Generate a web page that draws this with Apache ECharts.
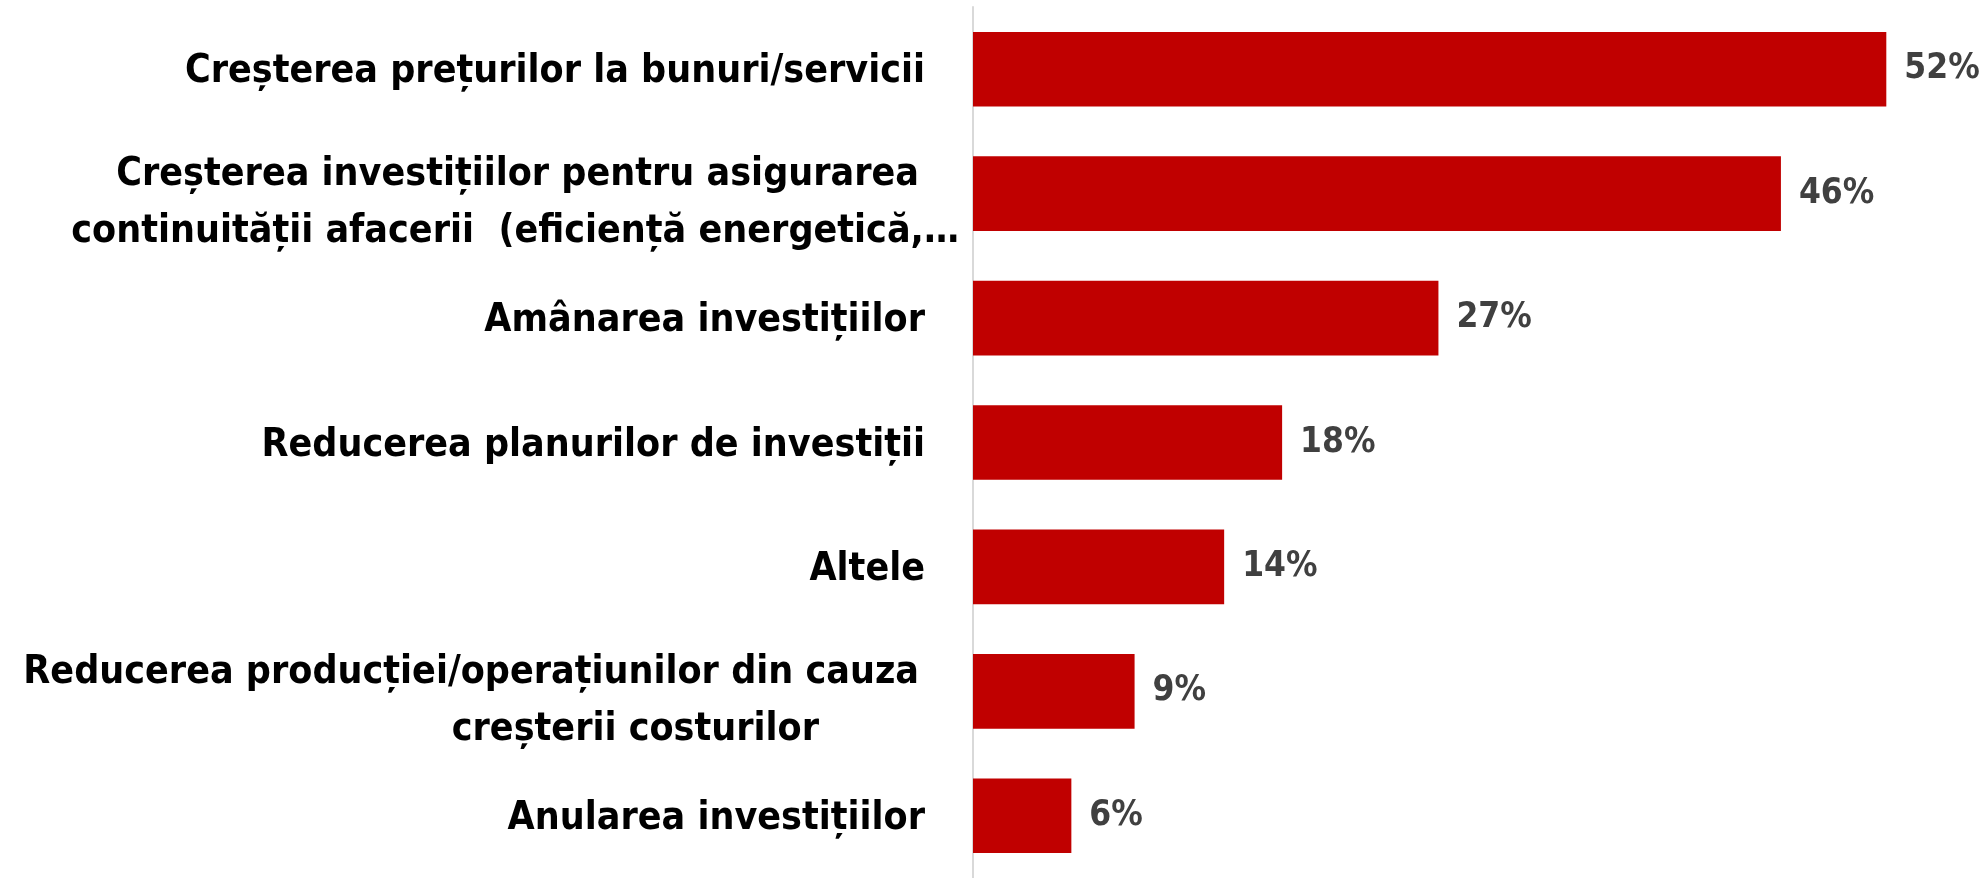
<!DOCTYPE html>
<html>
<head>
<meta charset="utf-8">
<script src="https://cdn.jsdelivr.net/npm/echarts@6/dist/echarts.min.js"></script>
<style>
html,body{margin:0;padding:0;background:#fff;}
#chart{width:1987px;height:878px;}
</style>
</head>
<body>
<div id="chart"></div>
<script>
// categories (top to bottom), each line of a label separately
var categories = [
	['Creșterea prețurilor la bunuri/servicii'],
	['Creșterea investițiilor pentru asigurarea', 'continuității afacerii  (eficiență energetică,…'],
	['Amânarea investițiilor'],
	['Reducerea planurilor de investiții'],
	['Altele'],
	['Reducerea producției/operațiunilor din cauza', 'creșterii costurilor'],
	['Anularea investițiilor']
];
// share of respondents, %
var values = [52, 46, 26.5, 17.6, 14.3, 9.2, 5.6];

var FONT = '"DejaVu Sans Condensed", "Liberation Sans Narrow", sans-serif';

var chart = echarts.init(document.getElementById('chart'));

// per-line right padding so the lines sit like in the original
function fmtLabel(val, idx){
	var lines = categories[idx];
	if (idx === 1) return '{p|' + lines[0] + '}\n{z|' + lines[1] + '}';
	if (idx === 5) return '{p|' + lines[0] + '}\n{q|' + lines[1] + '}';
	return '{n|' + lines[0] + '}';
}

function txt(extra){
	var s = { fontFamily : FONT, fontWeight : 'bold', fontSize : 39, color : '#000', lineHeight : 57 };
	for (var k in extra) s[k] = extra[k];
	return s;
}

chart.setOption({
	animation : false,
	grid : {
		left : 973,
		right : 48,
		top : 7,
		bottom : -4
	},
	xAxis : {
		type : 'value',
		min : 0,
		max : 55,
		show : false
	},
	yAxis : {
		type : 'category',
		inverse : true,
		data : categories.map(function(c){ return c.join(' '); }),
		axisTick : { show : false },
		axisLine : {
			show : true,
			lineStyle : { color : '#d9d9d9', width : 2 }
		},
		axisLabel : {
			margin : 14,
			formatter : fmtLabel,
			fontFamily : FONT,
			fontWeight : 'bold',
			fontSize : 39,
			color : '#000',
			lineHeight : 57,
			rich : {
				n : txt({ padding : [6, 34, 0, 0] }),
				p : txt({ padding : [20, 40, 0, 0] }),
				z : txt({ padding : [20, 0, 0, 0] }),
				q : txt({ padding : [20, 140, 0, 0] })
			}
		}
	},
	series : [ {
		type : 'bar',
		data : values,
		barCategoryGap : '40%',
		itemStyle : { color : '#c00000' },
		label : {
			show : true,
			position : 'right',
			distance : 18,
			formatter : function(p){ return Math.round(p.value) + '%'; },
			fontFamily : FONT,
			fontWeight : 'bold',
			fontSize : 35,
			color : '#404040'
		}
	} ]
});
</script>
</body>
</html>
